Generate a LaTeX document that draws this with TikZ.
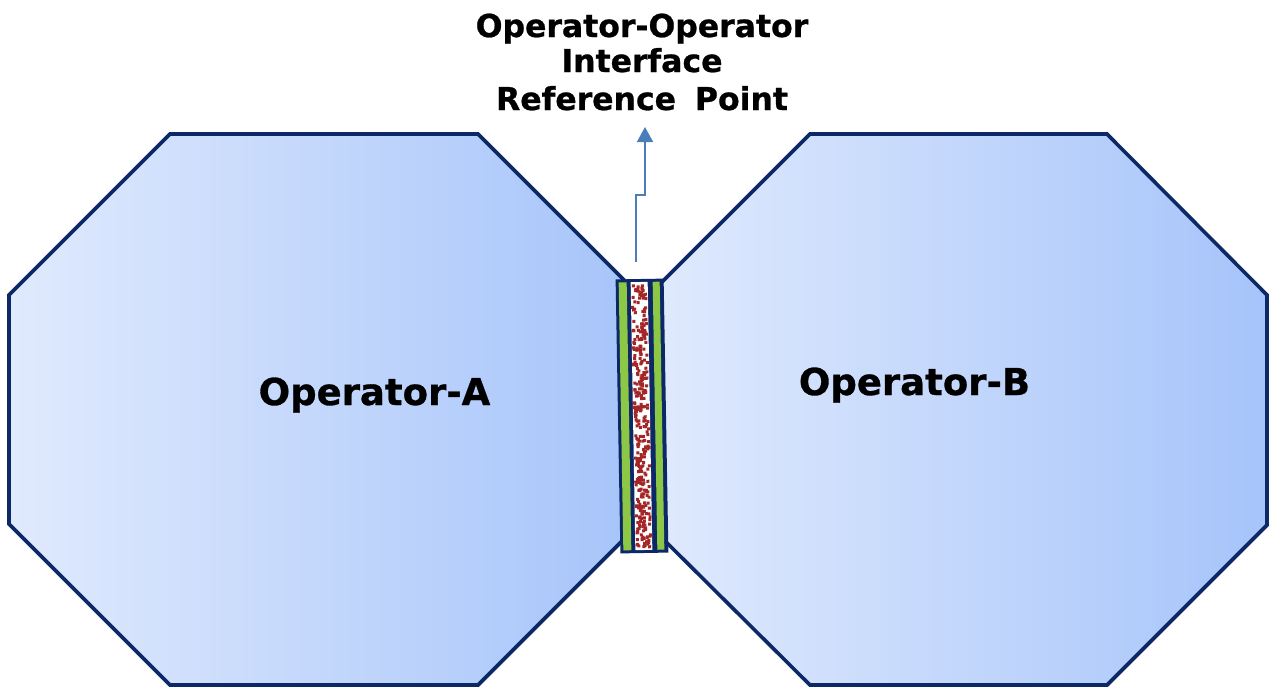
\documentclass[tikz,border=0pt]{standalone}
\usepackage{fontspec}
\newfontfamily\vfont{DejaVu Sans}[BoldFeatures={FakeBold=0.8}]
\usetikzlibrary{arrows.meta,shadows}
\definecolor{navy}{RGB}{12,40,102}
\definecolor{lightblue}{RGB}{224,234,253}
\definecolor{midblue}{RGB}{166,196,250}
\definecolor{greenband}{RGB}{140,200,70}
\definecolor{dotred}{RGB}{165,38,38}
\definecolor{arrowblue}{RGB}{74,126,187}
\tikzset{
  octa/.style={draw=navy, line width=3.6pt, line join=miter, left color=lightblue, right color=midblue,
    drop shadow={shadow xshift=1.5pt, shadow yshift=-1.5pt, opacity=0.25, fill=black}},
  oplabel/.style={font=\vfont\bfseries\fontsize{37}{44}\selectfont, anchor=base, inner sep=0pt},
  titlelabel/.style={font=\vfont\bfseries\fontsize{31.5}{36}\selectfont, anchor=base, inner sep=0pt},
  pointer/.style={draw=arrowblue, line width=1.6pt, -{Triangle[width=16pt,length=15pt]}}
}
\begin{document}
\begin{tikzpicture}[x=1pt,y=-1pt]
\useasboundingbox (0,0) rectangle (1274,689);
% Operator A octagon
\path[octa] (170,134) -- (478,134) -- (639,295) -- (639,524) -- (478,685) -- (170,685) -- (9,524) -- (9,295) -- cycle;
% Operator B octagon
\path[octa] (810,134) -- (1107,134) -- (1267,295) -- (1267,525) -- (1107,685) -- (810,685) -- (649,525) -- (649,295) -- cycle;
% interface strip
\begin{scope}[shift={(642,416)}, rotate=1]
  \fill[navy] (-24,-137) rectangle (24,137);
  \fill[greenband] (-21,-134) rectangle (-13,134);
  \fill[white] (-9,-134) rectangle (8,134);
  \fill[greenband] (13,-134) rectangle (20,134);
  \pgfmathsetseed{23}
  \foreach \i in {1,...,340} {
    \pgfmathsetmacro\mypx{-0.5+rand*7}
    \pgfmathsetmacro\mypy{rand*131}
    \fill[dotred] (\mypx-1.5,\mypy-1.5) rectangle ++(3,3);
  }
  \node[inner sep=0pt, minimum width=48pt, minimum height=274pt] (strip) at (0,0) {};
\end{scope}
% labels
\node[oplabel] (opA) at (374.5,405) {Operator-A};
\node[oplabel] (opB) at (914.5,395) {Operator-B};
\node[titlelabel] (t1) at (642,37) {Operator-Operator};
\node[titlelabel] (t2) at (642,72) {Interface};
\node[titlelabel] (t3) at (642,110) {Reference\hspace{0.6em}Point};
% pointer arrow
\coordinate (a1) at (636,262);
\coordinate (a2) at (636,195);
\coordinate (a3) at (645,195);
\coordinate (a4) at (645,127);
\draw[pointer] (a1) -- (a2) -- (a3) -- (a4);
\end{tikzpicture}
\end{document}
